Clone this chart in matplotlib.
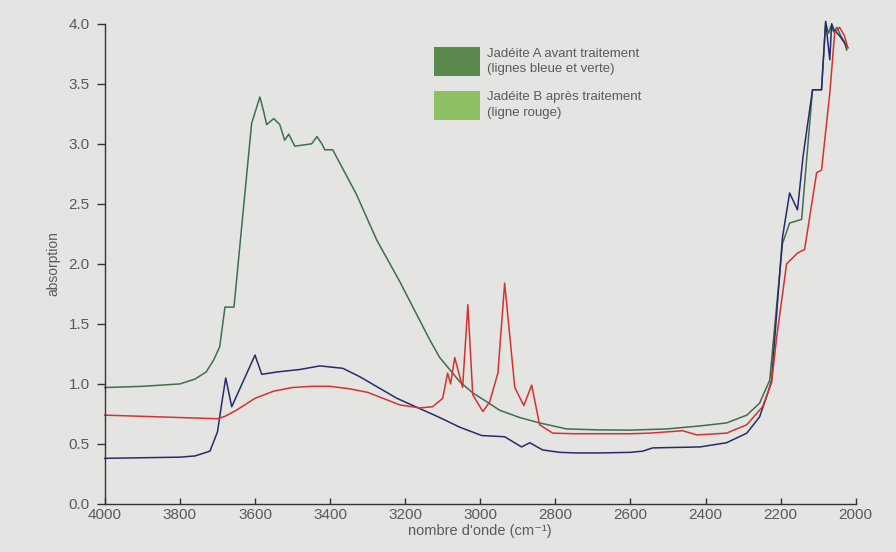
import matplotlib
matplotlib.use("Agg")
import matplotlib.pyplot as plt
from matplotlib.patches import Rectangle

plt.rcParams['font.family'] = ['Liberation Sans', 'DejaVu Sans']

# spectre vert (jadeite A)
wn_green = [4000, 3900, 3800, 3760, 3730, 3710, 3694, 3680, 3656, 3609,
            3587, 3577, 3569, 3550, 3534, 3521, 3510, 3494, 3449, 3435,
            3422, 3414, 3393, 3330, 3276, 3214, 3135, 3108, 3055, 3020,
            2982, 2948, 2895, 2842, 2770, 2682, 2600, 2503, 2415, 2344,
            2290, 2256, 2229, 2215, 2195, 2176, 2144, 2115, 2091, 2080,
            2072, 2066, 2058, 2050, 2040, 2030, 2024]
abs_green = [0.97, 0.98, 1.0, 1.04, 1.1, 1.2, 1.31, 1.64, 1.64, 3.17,
             3.39, 3.27, 3.16, 3.21, 3.16, 3.03, 3.08, 2.98, 3.0, 3.06,
             3.0, 2.95, 2.95, 2.58, 2.2, 1.85, 1.37, 1.22, 1.02, 0.925,
             0.85, 0.78, 0.72, 0.675, 0.625, 0.617, 0.615, 0.625, 0.65, 0.675,
             0.74, 0.84, 1.03, 1.5, 2.17, 2.34, 2.37, 3.45, 3.45, 4.01,
             3.92, 3.98, 3.93, 3.97, 3.9, 3.85, 3.78]

# spectre bleu (jadeite A)
wn_blue = [4000, 3900, 3800, 3760, 3720, 3700, 3688, 3678, 3662, 3600,
           3582, 3540, 3481, 3427, 3366, 3321, 3222, 3108, 3055, 2996,
           2935, 2890, 2868, 2834, 2788, 2743, 2682, 2600, 2567, 2541,
           2415, 2344, 2290, 2256, 2234, 2224, 2195, 2176, 2155, 2140,
           2115, 2091, 2080, 2069, 2064, 2058, 2043, 2021]
abs_blue = [0.38, 0.385, 0.39, 0.40, 0.44, 0.6, 0.85, 1.05, 0.81, 1.24,
            1.08, 1.10, 1.12, 1.15, 1.13, 1.06, 0.88, 0.72, 0.64, 0.57,
            0.56, 0.475, 0.51, 0.45, 0.43, 0.425, 0.425, 0.43, 0.44, 0.467,
            0.475, 0.51, 0.59, 0.725, 0.925, 1.03, 2.22, 2.59, 2.45, 2.9,
            3.45, 3.45, 4.02, 3.7, 4.0, 3.95, 3.9, 3.8]

# spectre rouge (jadeite B)
wn_red = [4000, 3900, 3800, 3700, 3680, 3650, 3600, 3550, 3500, 3450,
          3400, 3350, 3300, 3214, 3161, 3127, 3100, 3087, 3079, 3068,
          3047, 3033, 3020, 2993, 2975, 2953, 2935, 2908, 2884, 2863,
          2842, 2807, 2750, 2682, 2600, 2549, 2461, 2423, 2344, 2290,
          2248, 2224, 2210, 2184, 2155, 2136, 2104, 2091, 2069, 2056,
          2043, 2030, 2021]
abs_red = [0.74, 0.73, 0.72, 0.71, 0.73, 0.78, 0.88, 0.94, 0.97, 0.98,
           0.98, 0.96, 0.93, 0.825, 0.80, 0.81, 0.88, 1.09, 1.0, 1.22,
           0.97, 1.66, 0.91, 0.77, 0.85, 1.09, 1.84, 0.97, 0.82, 0.99,
           0.66, 0.59, 0.585, 0.585, 0.585, 0.59, 0.61, 0.575, 0.59, 0.66,
           0.81, 1.01, 1.4, 2.0, 2.09, 2.12, 2.76, 2.78, 3.42, 3.92,
           3.97, 3.9, 3.8]

xticks = [4000, 3800, 3600, 3400, 3200, 3000, 2800, 2600, 2400, 2200, 2000]
yticks = [0.0, 0.5, 1.0, 1.5, 2.0, 2.5, 3.0, 3.5, 4.0]
legend_labels = ["Jadéite A avant traitement\n(lignes bleue et verte)",
                 "Jadéite B après traitement\n(ligne rouge)"]

bg = '#e4e4e2'
txt = '#5a5a5a'

fig = plt.figure(figsize=(8.96, 5.52), dpi=100, facecolor=bg)
ax = fig.add_axes([0.117, 0.087, 0.838, 0.870])
ax.set_facecolor(bg)

ax.plot(wn_green, abs_green, color='#3f6e50', lw=1.1, clip_on=False)
ax.plot(wn_blue, abs_blue, color='#272b6c', lw=1.1, clip_on=False)
ax.plot(wn_red, abs_red, color='#d3332f', lw=1.1, clip_on=False)

ax.set_xlim(4000, 2000)
ax.set_ylim(0, 4)
ax.set_xticks(xticks)
ax.set_yticks(yticks)
ax.set_yticklabels(['%.1f' % v for v in yticks])

for s in ['top', 'right']:
    ax.spines[s].set_visible(False)
for s in ['left', 'bottom']:
    ax.spines[s].set_color('#333333')
    ax.spines[s].set_linewidth(1.0)

ax.tick_params(axis='y', direction='out', length=6, width=1.0, color='#333333',
               labelsize=11, labelcolor=txt, pad=5)
ax.tick_params(axis='x', direction='in', length=4, width=1.0, color='#333333',
               labelsize=11, labelcolor=txt, pad=3)

ax.set_ylabel('absorption', fontsize=10, color=txt, labelpad=6)
ax.set_xlabel("nombre d'onde (cm⁻¹)", fontsize=10.5, color=txt, labelpad=1)

# legende faite a la main
sw_colors = ['#5c8a4c', '#8cc062']
sw_y = [0.862, 0.783]
for c, y0, lab in zip(sw_colors, sw_y, legend_labels):
    fig.add_artist(Rectangle((0.484, y0), 0.0513, 0.053, transform=fig.transFigure,
                             facecolor=c, edgecolor='none'))
    fig.text(0.5435, y0 + 0.0265, lab, fontsize=9.5, color=txt, va='center',
             ha='left', linespacing=1.4)

fig.savefig('out.png', dpi=100, facecolor=bg)
